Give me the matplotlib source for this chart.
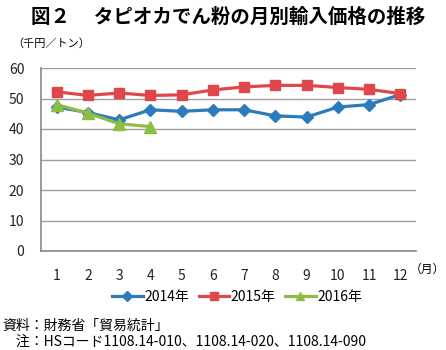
import matplotlib
matplotlib.use("Agg")
import matplotlib.pyplot as plt

plt.rcParams['font.family'] = ['Noto Sans CJK JP', 'DejaVu Sans']

months = [1, 2, 3, 4, 5, 6, 7, 8, 9, 10, 11, 12]
month_labels = [str(m) for m in months]
y2014 = [47.2, 45.4, 43.0, 46.3, 45.8, 46.3, 46.3, 44.3, 43.9, 47.2, 48.0, 51.3]
y2015 = [52.2, 51.0, 51.8, 51.0, 51.2, 52.8, 53.8, 54.3, 54.3, 53.6, 53.0, 51.6]
months_2016 = [1, 2, 3, 4]
y2016 = [48.0, 45.2, 41.7, 40.8]
yticks = [0, 10, 20, 30, 40, 50, 60]

blue = "#2b7bbd"
red = "#e0474c"
green = "#8dbd45"

fig = plt.figure(figsize=(4.46, 3.5), dpi=100)
ax = fig.add_axes([41 / 446, 1 - 251 / 350, 375 / 446, 183 / 350])

ax.plot(months, y2014, color=blue, lw=2.3, marker="D", ms=6.5, label="2014年")
ax.plot(months, y2015, color=red, lw=2.3, marker="s", ms=7.5, label="2015年")
ax.plot(months_2016, y2016, color=green, lw=2.3, marker="^", ms=8, label="2016年")

ax.set_xlim(0.5, 12.5)
ax.set_ylim(0, 60)
ax.set_yticks(yticks)
ax.set_xticks(months)
ax.set_xticklabels(month_labels)
ax.yaxis.grid(True, color="#a0a0a0", lw=1)
ax.set_axisbelow(True)
for s in ["top", "right"]:
    ax.spines[s].set_visible(False)
for s in ["left", "bottom"]:
    ax.spines[s].set_color("#888888")
    ax.spines[s].set_linewidth(1.2)
ax.tick_params(length=0, labelsize=10, colors="#222222")
ax.tick_params(axis="x", pad=13)
ax.tick_params(axis="y", pad=12)

fig.text(228 / 446, 1 - 17 / 350, "図２　 タピオカでん粉の月別輸入価格の推移",
         ha="center", va="center", fontsize=14, fontweight="bold")
fig.text(12 / 446, 1 - 44 / 350, "（千円／トン）", ha="left", va="center", fontsize=8)
fig.text(445 / 446, 1 - 269 / 350, "（月）", ha="right", va="center", fontsize=8.5)

fig.legend(loc="center", bbox_to_anchor=(237 / 446, 1 - 297 / 350), ncol=3,
           frameon=False, fontsize=10, handlelength=2.2, columnspacing=0.7,
           handletextpad=0.1, numpoints=1, markerscale=0.8)

fig.text(2 / 446, 1 - 326 / 350, "資料：財務省「貿易統計」", ha="left", va="center", fontsize=10)
fig.text(2 / 446, 1 - 342 / 350, "　注：HSコード1108.14-010、1108.14-020、1108.14-090",
         ha="left", va="center", fontsize=10)

fig.savefig("out.png", dpi=100)
